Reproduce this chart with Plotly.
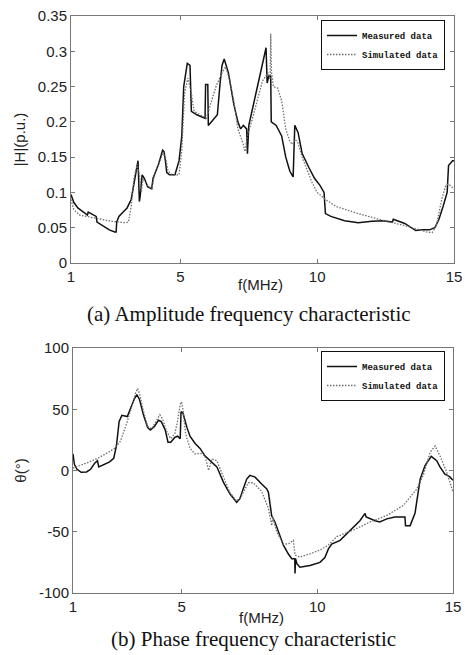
import plotly.graph_objects as go

# ---------------- data ----------------
amp_meas_f = [1.0, 1.1, 1.25, 1.45, 1.6, 1.63, 1.8, 1.92, 1.95, 2.2, 2.4, 2.6, 2.65, 2.67, 2.75, 2.9,
              3.05, 3.2, 3.35, 3.45, 3.5, 3.53, 3.6, 3.68, 3.8, 3.95, 4.0, 4.1, 4.2, 4.35, 4.4, 4.45,
              4.5, 4.6, 4.8, 4.95, 5.05, 5.12, 5.25, 5.35, 5.4, 5.6, 5.9, 5.92, 6.0, 6.02, 6.35, 6.45,
              6.52, 6.6, 6.75, 6.95, 7.1, 7.2, 7.3, 7.42, 7.45, 7.5, 7.7, 7.9, 8.1, 8.13, 8.17, 8.23,
              8.3, 8.32, 8.5, 8.7, 8.85, 9.0, 9.12, 9.18, 9.3, 9.45, 9.7, 9.9, 10.1, 10.25, 10.3, 10.5,
              11.0, 11.5, 12.0, 12.4, 12.75, 12.78, 13.2, 13.6, 13.85, 14.1, 14.3, 14.45, 14.6, 14.75,
              14.8, 14.95, 15.0]
amp_meas_v = [0.097, 0.086, 0.078, 0.072, 0.068, 0.072, 0.069, 0.066, 0.058, 0.052, 0.047, 0.044, 0.044,
              0.058, 0.066, 0.072, 0.078, 0.09, 0.12, 0.145, 0.087, 0.095, 0.125, 0.12, 0.108, 0.105,
              0.12, 0.13, 0.14, 0.16, 0.158, 0.145, 0.128, 0.125, 0.125, 0.145, 0.18, 0.25, 0.283, 0.28,
              0.215, 0.21, 0.205, 0.253, 0.253, 0.195, 0.21, 0.255, 0.28, 0.289, 0.27, 0.225, 0.2, 0.19,
              0.195, 0.19, 0.155, 0.195, 0.23, 0.265, 0.3, 0.305, 0.255, 0.265, 0.265, 0.2, 0.195, 0.18,
              0.15, 0.13, 0.122, 0.195, 0.185, 0.155, 0.135, 0.12, 0.11, 0.1, 0.07, 0.066, 0.06, 0.057,
              0.059, 0.06, 0.058, 0.062, 0.056, 0.046, 0.047, 0.047, 0.05, 0.062, 0.08, 0.1, 0.138,
              0.145, 0.145]

amp_sim_f = [1.0, 1.1, 1.3, 1.6, 2.0, 2.5, 3.0, 3.1, 3.2, 3.3, 3.42, 3.5, 3.57, 3.63, 3.75, 3.95, 4.05,
             4.2, 4.36, 4.45, 4.55, 4.7, 4.95, 5.05, 5.15, 5.27, 5.38, 5.5, 5.7, 5.95, 6.1, 6.3, 6.5,
             6.65, 6.8, 6.95, 7.1, 7.2, 7.3, 7.36, 7.45, 7.6, 7.8, 8.0, 8.2, 8.28, 8.3, 8.33, 8.4, 8.55,
             8.7, 8.85, 9.0, 9.1, 9.2, 9.3, 9.45, 9.6, 9.8, 10.0, 10.3, 10.7, 11.5, 12.45, 13.3, 14.0,
             14.2, 14.35, 14.45, 14.55, 14.7, 14.8, 15.0]
amp_sim_v = [0.09, 0.076, 0.068, 0.066, 0.063, 0.059, 0.057, 0.058, 0.08, 0.12, 0.14, 0.125, 0.1, 0.12,
             0.112, 0.105, 0.125, 0.14, 0.155, 0.15, 0.13, 0.125, 0.125, 0.16, 0.24, 0.262, 0.245, 0.215,
             0.21, 0.205, 0.225, 0.25, 0.268, 0.278, 0.26, 0.23, 0.19, 0.18, 0.168, 0.158, 0.18, 0.2,
             0.23, 0.258, 0.27, 0.26, 0.325, 0.27, 0.25, 0.248, 0.23, 0.19, 0.172, 0.168, 0.175, 0.17,
             0.15, 0.135, 0.115, 0.1, 0.09, 0.08, 0.07, 0.06, 0.052, 0.044, 0.043, 0.052, 0.07, 0.09,
             0.11, 0.112, 0.105]

ph_meas_f = [1.0, 1.05, 1.15, 1.3, 1.5, 1.65, 1.8, 1.9, 1.95, 2.15, 2.35, 2.5, 2.6, 2.7, 2.8, 3.0, 3.1,
             3.25, 3.35, 3.45, 3.6, 3.75, 3.85, 4.0, 4.15, 4.25, 4.4, 4.5, 4.6, 4.75, 4.85, 4.95, 4.98,
             5.05, 5.2, 5.31, 5.5, 5.68, 5.86, 6.05, 6.3, 6.54, 6.78, 7.03, 7.15, 7.27, 7.4, 7.52, 7.71,
             7.95, 8.14, 8.2, 8.32, 8.44, 8.56, 8.75, 8.93, 9.06, 9.17, 9.18, 9.2, 9.25, 9.36, 9.73,
             10.1, 10.28, 10.41, 10.53, 10.84, 11.08, 11.33, 11.57, 11.76, 11.8, 12.13, 12.3, 12.56,
             12.86, 13.23, 13.25, 13.42, 13.6, 13.79, 13.97, 14.2, 14.4, 14.52, 14.7, 14.8, 14.89, 15.0]
ph_meas_v = [13.6, 5, 1, -1.5, -1.2, 1, 6, 8, 3, 5, 7, 10, 20, 40, 45, 44, 50, 58, 62, 58, 45, 35, 33,
             36, 41, 40, 33, 23, 23, 27, 28, 26, 48, 47, 35, 28, 22, 18, 12, 8, 3, -9.5, -19, -26, -23,
             -15, -7, -4, -5.4, -11, -15, -18, -37, -42, -50, -61, -68, -72, -72, -84, -72, -76, -79,
             -77.5, -75, -71, -64, -60, -57, -51.6, -46, -41, -35, -38, -41, -42, -39.5, -38, -38, -45,
             -45, -35, -7, 4, 11.5, 8, 3, -3, -4, -5.4, -8]

ph_sim_f = [1.0, 1.5, 2.0, 2.5, 2.75, 3.0, 3.2, 3.3, 3.38, 3.45, 3.6, 3.75, 3.9, 4.05, 4.2, 4.3, 4.45,
            4.6, 4.75, 4.85, 4.95, 5.0, 5.05, 5.15, 5.31, 5.5, 5.7, 5.86, 6.0, 6.11, 6.3, 6.5, 6.78,
            7.03, 7.2, 7.46, 7.64, 7.95, 8.2, 8.32, 8.36, 8.5, 8.75, 8.93, 9.12, 9.18, 9.36, 9.73,
            10.1, 10.4, 10.72, 11.33, 11.95, 12.56, 13.17, 13.67, 13.91, 14.16, 14.34, 14.52, 14.77,
            15.0]
ph_sim_v = [2, 6, 11, 17.5, 24, 40, 55, 63, 67, 63, 48, 36, 34, 40, 45.5, 42, 32, 26, 30, 40, 54, 56,
            50, 30, 18, 13.5, 14, 12, 0, 9.5, 8, -3, -18, -25, -21, -10, -10, -17, -31, -45, -38, -50,
            -60, -60, -57, -69, -70.7, -68, -65, -61, -54, -48.6, -42, -36.7, -28.5, -15, -3.6, 15,
            20, 12, -1.4, -17.7]

x_ticks = [1, 5, 10, 15]
amp_ticks = [0, 0.05, 0.1, 0.15, 0.2, 0.25, 0.3, 0.35]
amp_labels = ["0", "0.05", "0.1", "0.15", "0.2", "0.25", "0.3", "0.35"]
ph_ticks = [-100, -50, 0, 50, 100]
ph_labels = ["-100", "-50", "0", "50", "100"]

# ---------------- figure ----------------
W, H = 465, 655
meas_line = dict(color="#111111", width=1.5)
sim_line = dict(color="#6e6e6e", width=1.3, dash="1.5px,1.5px")

fig = go.Figure()
fig.add_trace(go.Scatter(x=amp_meas_f, y=amp_meas_v, mode="lines", line=meas_line,
                         name="Measured data", legend="legend", xaxis="x", yaxis="y"))
fig.add_trace(go.Scatter(x=amp_sim_f, y=amp_sim_v, mode="lines", line=sim_line,
                         name="Simulated data", legend="legend", xaxis="x", yaxis="y"))
fig.add_trace(go.Scatter(x=ph_meas_f, y=ph_meas_v, mode="lines", line=meas_line,
                         name="Measured data", legend="legend2", xaxis="x2", yaxis="y2"))
fig.add_trace(go.Scatter(x=ph_sim_f, y=ph_sim_v, mode="lines", line=sim_line,
                         name="Simulated data", legend="legend2", xaxis="x2", yaxis="y2"))

tick_font = dict(family="Liberation Sans, Arial", size=15, color="#222")
common = dict(showline=True, mirror="ticks", linecolor="#777", linewidth=1, ticks="inside",
              ticklen=4, tickcolor="#777", showgrid=False, zeroline=False, tickfont=tick_font,
              automargin=False)


def px_x(p):
    return p / W


def px_y(p):
    return 1 - p / H


legend_font = dict(family="Liberation Mono", size=9, color="#111", weight="bold")
caption_font = dict(family="Liberation Serif, Times New Roman", size=21, color="#111")

fig.update_layout(
    width=W, height=H, margin=dict(l=0, r=0, t=0, b=0, pad=0, autoexpand=False),
    paper_bgcolor="white", plot_bgcolor="white",
    xaxis=dict(domain=[px_x(71), px_x(454)], range=[1, 15], tickvals=x_ticks, anchor="y", **common),
    yaxis=dict(domain=[px_y(263), px_y(16)], range=[0, 0.35], tickvals=amp_ticks, ticktext=amp_labels,
               title=dict(text="|H|(p.u.)", font=tick_font, standoff=8), anchor="x", **common),
    xaxis2=dict(domain=[px_x(73), px_x(453)], range=[1, 15], tickvals=x_ticks, anchor="y2", **common),
    yaxis2=dict(domain=[px_y(593), px_y(348)], range=[-100, 100], tickvals=ph_ticks, ticktext=ph_labels,
                title=dict(text="θ(°)", font=tick_font, standoff=8), anchor="x2", **common),
    legend=dict(x=px_x(321), y=px_y(20), xanchor="left", yanchor="top", bgcolor="white",
                bordercolor="#111", borderwidth=1, font=legend_font),
    legend2=dict(x=px_x(321), y=px_y(351), xanchor="left", yanchor="top", bgcolor="white",
                 bordercolor="#111", borderwidth=1, font=legend_font),
    annotations=[
        dict(text="f(MHz)", x=px_x(260), y=px_y(285), xref="paper", yref="paper", showarrow=False,
             xanchor="center", yanchor="middle", font=tick_font),
        dict(text="f(MHz)", x=px_x(261), y=px_y(617), xref="paper", yref="paper", showarrow=False,
             xanchor="center", yanchor="middle", font=tick_font),
        dict(text="(a) Amplitude frequency characteristic", x=px_x(249), y=px_y(314), xref="paper",
             yref="paper", showarrow=False, xanchor="center", yanchor="middle", font=caption_font),
        dict(text="(b) Phase frequency characteristic", x=px_x(253), y=px_y(639), xref="paper",
             yref="paper", showarrow=False, xanchor="center", yanchor="middle", font=caption_font),
    ],
)

fig.write_html("out.html", config={"displayModeBar": False},
               post_script="document.body.style.margin='0';")
